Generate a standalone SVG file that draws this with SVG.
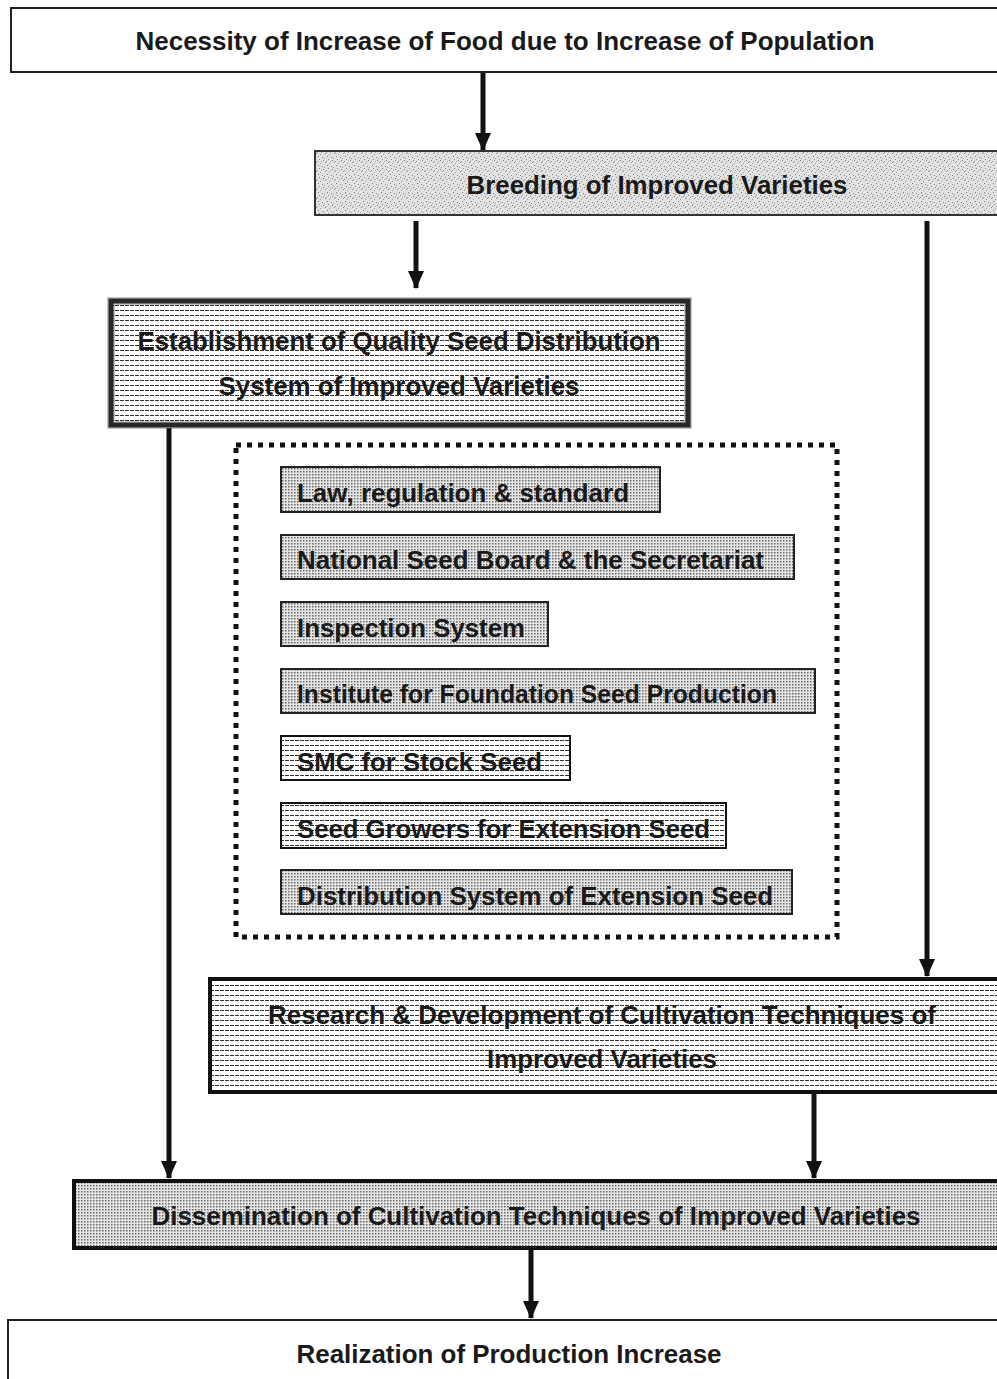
<svg xmlns="http://www.w3.org/2000/svg" width="997" height="1379" viewBox="0 0 997 1379">
<style>
text{font-family:"Liberation Sans",Arial,sans-serif;font-weight:bold;font-size:25.5px;fill:#1a1a1a;text-anchor:middle}
text.l{text-anchor:start}
.plain{fill:#fff;stroke:#222;stroke-width:2}
.dot{fill:url(#dots);stroke:#222;stroke-width:2}
.lin{fill:url(#lines);stroke:#111;stroke-width:2}
.conn{stroke:#111;stroke-width:5;fill:none}
</style>
<defs>
<pattern id="dots" width="3" height="3" patternUnits="userSpaceOnUse">
<rect width="3" height="3" fill="#e6e6e6"/>
<rect width="1.5" height="1.5" fill="#666"/>
</pattern>
<pattern id="lines" width="5" height="5" patternUnits="userSpaceOnUse">
<rect width="5" height="5" fill="#fff"/>
<rect y="0" width="4" height="1" fill="#333"/>
</pattern>
<pattern id="noise" width="9" height="9" patternUnits="userSpaceOnUse">
<rect width="9" height="9" fill="#e2e2e2"/>
<rect x="1" y="0" width="1" height="1" fill="#888"/>
<rect x="5" y="1" width="1" height="1" fill="#999"/>
<rect x="3" y="3" width="1" height="1" fill="#777"/>
<rect x="7" y="4" width="1" height="1" fill="#888"/>
<rect x="0" y="5" width="1" height="1" fill="#999"/>
<rect x="4" y="6" width="1" height="1" fill="#888"/>
<rect x="8" y="7" width="1" height="1" fill="#777"/>
<rect x="2" y="8" width="1" height="1" fill="#999"/>
<rect x="6" y="8" width="1" height="1" fill="#aaa"/>
</pattern>
<marker id="arr" markerUnits="userSpaceOnUse" markerWidth="18" markerHeight="16" refX="17" refY="8" orient="auto" viewBox="0 0 18 16">
<path d="M0,0 L18,8 L0,16 Z" fill="#111"/>
</marker>
</defs>

<g id="connectors">
<line class="conn" x1="483" y1="72" x2="483" y2="150" marker-end="url(#arr)"/>
<line class="conn" x1="416" y1="221" x2="416" y2="288" marker-end="url(#arr)"/>
<line class="conn" x1="927" y1="221" x2="927" y2="976" marker-end="url(#arr)"/>
<line class="conn" x1="169" y1="428" x2="169" y2="1178" marker-end="url(#arr)"/>
<line class="conn" x1="814" y1="1094" x2="814" y2="1178" marker-end="url(#arr)"/>
<line class="conn" x1="531" y1="1250" x2="531" y2="1318" marker-end="url(#arr)"/>
</g>

<g id="n-necessity">
<rect class="plain" x="11" y="8" width="990" height="64"/>
<text x="505" y="50" textLength="739" lengthAdjust="spacingAndGlyphs">Necessity of Increase of Food due to Increase of Population</text>
</g>

<g id="n-breeding">
<rect x="315" y="151" width="686" height="64" fill="url(#noise)" stroke="#333" stroke-width="2"/>
<text x="657" y="194" textLength="381" lengthAdjust="spacingAndGlyphs">Breeding of Improved Varieties</text>
</g>

<g id="n-establishment">
<rect x="111" y="301" width="577" height="124" fill="url(#lines)" stroke="#111" stroke-width="5"/>
<rect x="111" y="301" width="577" height="124" fill="none" stroke="#555" stroke-width="8" stroke-opacity="0.35"/>
<text x="399" y="350" textLength="523" lengthAdjust="spacingAndGlyphs">Establishment of Quality Seed Distribution</text>
<text x="399" y="395" textLength="361" lengthAdjust="spacingAndGlyphs">System of Improved Varieties</text>
</g>

<g id="n-group">
<rect x="236" y="445" width="601" height="492" fill="none" stroke="#111" stroke-width="5" stroke-dasharray="5 6"/>
</g>

<g id="n-law">
<rect class="dot" x="281" y="467" width="379" height="45"/>
<text class="l" x="297" y="502" textLength="332" lengthAdjust="spacingAndGlyphs">Law, regulation &amp; standard</text>
</g>
<g id="n-board">
<rect class="dot" x="281" y="535" width="513" height="44"/>
<text class="l" x="297" y="569" textLength="467" lengthAdjust="spacingAndGlyphs">National Seed Board &amp; the Secretariat</text>
</g>
<g id="n-inspection">
<rect class="dot" x="281" y="602" width="267" height="44"/>
<text class="l" x="297" y="637" textLength="228" lengthAdjust="spacingAndGlyphs">Inspection System</text>
</g>
<g id="n-institute">
<rect class="dot" x="281" y="669" width="534" height="44"/>
<text class="l" x="297" y="703" textLength="480" lengthAdjust="spacingAndGlyphs">Institute for Foundation Seed Production</text>
</g>
<g id="n-smc">
<rect class="lin" x="281" y="736" width="289" height="44" stroke-width="3"/>
<text class="l" x="297" y="771" textLength="245" lengthAdjust="spacingAndGlyphs">SMC for Stock Seed</text>
</g>
<g id="n-growers">
<rect class="lin" x="281" y="803" width="445" height="45"/>
<text class="l" x="297" y="838" textLength="413" lengthAdjust="spacingAndGlyphs">Seed Growers for Extension Seed</text>
</g>
<g id="n-distribution">
<rect class="dot" x="281" y="870" width="511" height="44"/>
<text class="l" x="297" y="905" textLength="476" lengthAdjust="spacingAndGlyphs">Distribution System of Extension Seed</text>
</g>

<g id="n-research">
<rect x="210" y="979" width="791" height="113" fill="url(#lines)" stroke="#111" stroke-width="4"/>
<text x="602" y="1024" textLength="668" lengthAdjust="spacingAndGlyphs">Research &amp; Development of Cultivation Techniques of</text>
<text x="602" y="1068" textLength="230" lengthAdjust="spacingAndGlyphs">Improved Varieties</text>
</g>

<g id="n-dissemination">
<rect x="74" y="1181" width="927" height="67" fill="url(#dots)" stroke="#111" stroke-width="4"/>
<text x="536" y="1225" textLength="769" lengthAdjust="spacingAndGlyphs">Dissemination of Cultivation Techniques of Improved Varieties</text>
</g>

<g id="n-realization">
<rect class="plain" x="8" y="1320" width="993" height="70"/>
<text x="509" y="1363" textLength="425" lengthAdjust="spacingAndGlyphs">Realization of Production Increase</text>
</g>
</svg>
